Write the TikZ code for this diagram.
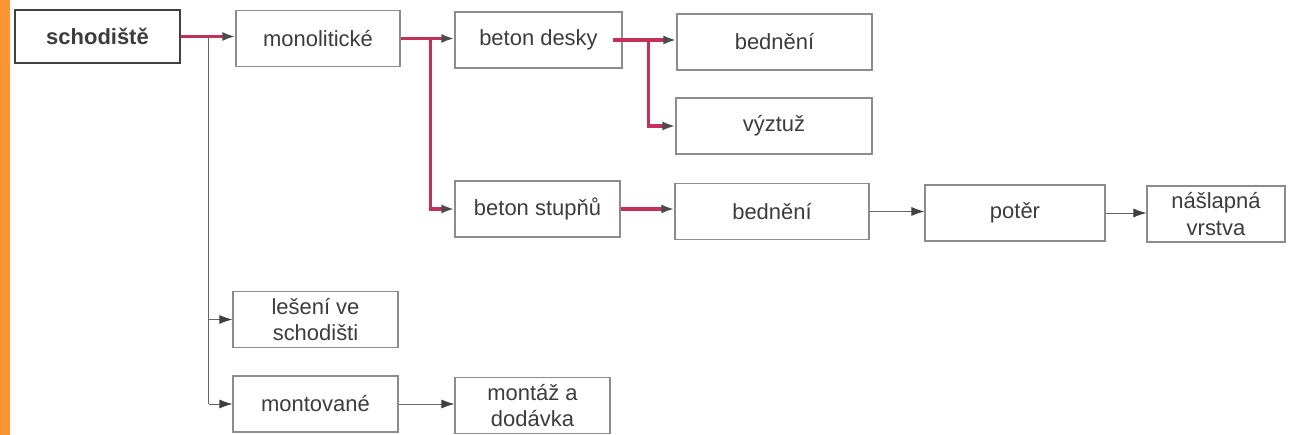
\documentclass[tikz,border=0pt]{standalone}
\usepackage{fontspec}
\setmainfont{Liberation Sans}
\usetikzlibrary{arrows.meta}
\definecolor{boxgray}{RGB}{140,140,140}
\definecolor{txtgray}{RGB}{60,60,60}
\definecolor{linkred}{RGB}{196,48,88}
\definecolor{stripe}{RGB}{250,150,50}
\begin{document}
\begin{tikzpicture}[
    block/.style = {draw = boxgray, line width = 0.6pt, minimum width = #1, minimum height = 1.12cm,
                    inner sep = 0pt, align = center, text = txtgray,
                    font = \fontsize{12.5}{15}\selectfont},
    block/.default = 3.3cm,
    head/.style = {block = 3.3cm, draw = black!75, line width = 1pt, minimum height = 1.06cm, font = \fontsize{12.5}{15}\selectfont\bfseries},
    redlink/.style = {draw = linkred, line width = 2pt},
    redarrow/.style = {redlink, -{Latex[length = 2.6mm, width = 1.8mm, color = black!70]}},
    link/.style = {draw = black!60, line width = 0.5pt, -{Latex[length = 2.6mm, width = 1.8mm, color = black!75]}},
    plain/.style = {draw = black!60, line width = 0.5pt}]
    \useasboundingbox (0, 0) rectangle (25.82, 8.7);
    \fill[stripe] (0, 0) rectangle (0.2, 8.7);
    % boxes
    \node[head] (sch) at (1.95, 7.97) {schodiště};
    \node[block = 3.28cm] (mono) at (6.36, 7.93) {monolitické};
    \node[block = 3.34cm] (desky) at (10.77, 7.9) {beton desky};
    \node[block = 3.9cm] (bed1) at (15.49, 7.86) {bednění};
    \node[block = 3.92cm] (vyz) at (15.48, 6.18) {výztuž};
    \node[block] (stup) at (10.75, 4.52) {beton stupňů};
    \node[block = 3.88cm] (bed2) at (15.44, 4.47) {bednění};
    \node[block = 3.6cm] (poter) at (20.3, 4.44) {potěr};
    \node[block = 2.76cm] (naslap) at (24.32, 4.42) {nášlapná\\vrstva};
    \node[block] (lesen) at (6.31, 2.31) {lešení ve\\schodišti};
    \node[block] (mont) at (6.31, 0.62) {montované};
    \node[block = 3.1cm] (montaz) at (10.65, 0.59) {montáž a\\dodávka};
    % branch points
    \coordinate (j1) at ([xshift = 0.56cm] sch.east);
    \coordinate (j2) at ([xshift = 0.6cm] mono.east);
    \coordinate (j3) at ([xshift = 0.52cm] desky.east);
    % red links
    \draw[redarrow] (sch.east) -- (sch.east -| mono.west);
    \draw[redarrow] (mono.east) -- (mono.east -| desky.west);
    \draw[redarrow] (j2) |- (stup.west);
    \draw[redarrow] ([xshift = -0.2cm] desky.east) -- (desky.east -| bed1.west);
    \draw[redarrow] (j3) |- (vyz.west);
    \draw[redarrow] (stup.east) -- (stup.east -| bed2.west);
    % gray links
    \draw[link] (bed2.east) -- (bed2.east -| poter.west);
    \draw[link] (poter.east) -- (poter.east -| naslap.west);
    \draw[plain] (j1) -- (j1 |- mont.west);
    \draw[link] (j1 |- lesen.west) -- (lesen.west);
    \draw[link] (j1 |- mont.west) -- (mont.west);
    \draw[link] (mont.east) -- (mont.east -| montaz.west);
\end{tikzpicture}
\end{document}
